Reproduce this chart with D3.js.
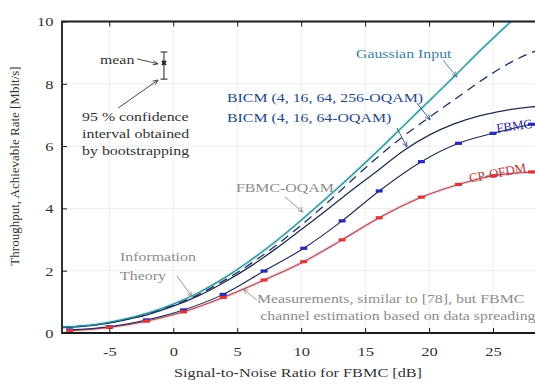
<!DOCTYPE html>
<html>
<head>
<meta charset="utf-8">
<script src="https://cdn.jsdelivr.net/npm/d3@7"></script>
<style>
  html, body { margin: 0; padding: 0; background: #fff; }
  svg { display: block; }
  svg text { font-family: "Liberation Serif", "Tinos", "Times New Roman", "DejaVu Serif", serif; }
</style>
</head>
<body>
<svg id="chart" width="535" height="385"></svg>
<script>

// theory curves, sampled on a common SNR grid [dB]
const snrTheory = [-8.7, -6, -4, -2, 0, 2, 4, 6, 8, 10, 12, 14, 16, 18, 20, 22, 24, 26, 28, 30];
const gaussian  = [0.19, 0.28, 0.43, 0.64, 0.93, 1.30, 1.77, 2.32, 2.94, 3.62, 4.34, 5.08, 5.85, 6.65, 7.45, 8.25, 9.07, 9.85, 10.6, 11.4];
const bicm256   = [0.18, 0.27, 0.41, 0.61, 0.89, 1.24, 1.69, 2.21, 2.80, 3.46, 4.17, 4.92, 5.65, 6.32, 6.92, 7.50, 8.08, 8.60, 9.00, 9.25];
const bicm64    = [0.17, 0.26, 0.40, 0.59, 0.86, 1.20, 1.63, 2.13, 2.70, 3.32, 3.95, 4.60, 5.22, 5.85, 6.35, 6.72, 6.98, 7.15, 7.26, 7.33];

// measurements
const snrMeas = [-8.1, -5.0, -2.1, 0.8, 3.9, 7.1, 10.2, 13.2, 16.1, 19.4, 22.3, 25.0, 28.0, 31.0];
const fbmcMeas = [0.10, 0.20, 0.42, 0.74, 1.24, 1.99, 2.72, 3.60, 4.56, 5.50, 6.09, 6.41, 6.70, 6.95];
const ofdmMeas = [0.07, 0.18, 0.38, 0.68, 1.14, 1.70, 2.29, 2.99, 3.70, 4.36, 4.77, 5.05, 5.17, 5.27];

// example error bar (mean + 95 % interval)
const exampleBar = { snr: -0.73, mean: 8.67, lo: 8.15, hi: 9.02 };

const xTicks = [-5, 0, 5, 10, 15, 20, 25];
const yTicks = [0, 2, 4, 6, 8, 10];

const svg = d3.select("#chart");
const L = 62, T = 21.5, B = 333, R = 557;
const SX = 1.22;   // the source figure is stretched horizontally, text included

const x = d3.scaleLinear().domain([-8.7, 30]).range([L, R]);
const y = d3.scaleLinear().domain([0, 10]).range([B, T]);

const defs = svg.append("defs");
defs.append("clipPath").attr("id", "plotClip")
  .append("rect").attr("x", L).attr("y", T).attr("width", R - L).attr("height", B - T);

function arrowMarker(id, color) {
  defs.append("marker")
    .attr("id", id).attr("viewBox", "0 0 10 10")
    .attr("refX", 9).attr("refY", 5)
    .attr("markerWidth", 7).attr("markerHeight", 7)
    .attr("orient", "auto")
    .append("path").attr("d", "M1,1.5 L9,5 L1,8.5").attr("fill", "none")
    .attr("stroke", color).attr("stroke-width", 1.3);
}
arrowMarker("arDark", "#333");
arrowMarker("arTeal", "#3b7fa6");
arrowMarker("arNavy", "#2a4a85");
arrowMarker("arGray", "#8c8c8c");

// grid
const gGrid = svg.append("g");
gGrid.selectAll("line.v").data(xTicks).join("line")
  .attr("x1", d => x(d)).attr("x2", d => x(d)).attr("y1", T).attr("y2", B)
  .attr("stroke", "#ededed").attr("stroke-width", 1);
gGrid.selectAll("line.h").data(yTicks.slice(1, -1)).join("line")
  .attr("y1", d => y(d)).attr("y2", d => y(d)).attr("x1", L).attr("x2", R)
  .attr("stroke", "#ededed").attr("stroke-width", 1);

// curves
const gPlot = svg.append("g").attr("clip-path", "url(#plotClip)");
const line = d3.line().x(d => x(d[0])).y(d => y(d[1])).curve(d3.curveMonotoneX);
const zip = (xs, ys) => xs.map((v, i) => [v, ys[i]]);

// soft halos seen in the picture
gPlot.append("path").attr("d", line(zip(snrTheory, gaussian)))
  .attr("fill", "none").attr("stroke", "#d3f0f4").attr("stroke-width", 3.5);
gPlot.append("path").attr("d", line(zip(snrMeas, ofdmMeas)))
  .attr("fill", "none").attr("stroke", "#f6dbe6").attr("stroke-width", 3.5);

gPlot.append("path").attr("d", line(zip(snrTheory, bicm64)))
  .attr("fill", "none").attr("stroke", "#1f2f4f").attr("stroke-width", 1.3);
gPlot.append("path").attr("d", line(zip(snrTheory, bicm256)))
  .attr("fill", "none").attr("stroke", "#1f2f5f").attr("stroke-width", 1.3)
  .attr("stroke-dasharray", "9,6");
gPlot.append("path").attr("d", line(zip(snrTheory, gaussian)))
  .attr("fill", "none").attr("stroke", "#2f8f96").attr("stroke-width", 1.3);

gPlot.append("path").attr("d", line(zip(snrMeas, ofdmMeas)))
  .attr("fill", "none").attr("stroke", "#a84a4a").attr("stroke-width", 1.1);
gPlot.append("path").attr("d", line(zip(snrMeas, fbmcMeas)))
  .attr("fill", "none").attr("stroke", "#1c2a55").attr("stroke-width", 1.1);

// measurement markers
function markers(ys, color) {
  gPlot.append("g").selectAll("rect").data(zip(snrMeas, ys)).join("rect")
    .attr("x", d => x(d[0]) - 3.5).attr("y", d => y(d[1]) - 1.6)
    .attr("width", 7).attr("height", 3.2)
    .attr("fill", color);
}
markers(fbmcMeas, "#2a2ab0");
markers(ofdmMeas, "#d83a3a");

// example error bar
const eb = svg.append("g").attr("stroke", "#222").attr("stroke-width", 1);
eb.append("line").attr("x1", x(exampleBar.snr)).attr("x2", x(exampleBar.snr))
  .attr("y1", y(exampleBar.lo)).attr("y2", y(exampleBar.hi));
[exampleBar.lo, exampleBar.hi].forEach(v => {
  eb.append("line").attr("x1", x(exampleBar.snr) - 3.5).attr("x2", x(exampleBar.snr) + 3.5)
    .attr("y1", y(v)).attr("y2", y(v));
});
eb.append("path")
  .attr("d", d3.symbol(d3.symbolCross, 18)())
  .attr("transform", `translate(${x(exampleBar.snr)},${y(exampleBar.mean)}) rotate(45)`)
  .attr("fill", "#222").attr("stroke", "none");

// axes: box + inward ticks
const axisColor = "#1a1a1a";
const gx = svg.append("g").attr("transform", `translate(0,${B})`)
  .call(d3.axisBottom(x).tickValues(xTicks).tickSizeInner(-5).tickSizeOuter(0).tickPadding(13));
const gxTop = svg.append("g").attr("transform", `translate(0,${T})`)
  .call(d3.axisTop(x).tickValues(xTicks).tickSizeInner(-5).tickSizeOuter(0).tickFormat(() => ""));
const gy = svg.append("g").attr("transform", `translate(${L},0)`)
  .call(d3.axisLeft(y).tickValues(yTicks).tickSizeInner(-5).tickSizeOuter(0).tickPadding(7));
[gx, gxTop, gy].forEach(g => {
  g.attr("font-family", null);
  g.select(".domain").remove();
  g.selectAll(".tick line").attr("stroke", axisColor).attr("stroke-width", 1);
  g.selectAll("text").attr("fill", "#333").attr("font-size", 13.5)
    .attr("transform", `scale(${SX},1)`);
});
gx.selectAll("text").text(d => d < 0 ? "-" + Math.abs(d) : d);

svg.append("path")
  .attr("d", `M${R},${T} L${L},${T} L${L},${B} L${R},${B}`)
  .attr("fill", "none").attr("stroke", axisColor).attr("stroke-width", 1.8);

// axis titles
svg.append("text").attr("transform", `translate(298,377) scale(1.25,1)`)
  .attr("text-anchor", "middle").attr("font-size", 13).attr("fill", "#333")
  .text("Signal-to-Noise Ratio for FBMC [dB]");
svg.append("text").attr("transform", "translate(19,166) rotate(-90)")
  .attr("text-anchor", "middle").attr("font-size", 13).attr("fill", "#333")
  .text("Throughput, Achievable Rate [Mbit/s]");

// annotations (positions in data units)
const notes = [
  { t: "mean", s: -5.73, v: 8.64, c: "#333" },
  { t: "95 % confidence", s: -7.13, v: 6.81, c: "#333" },
  { t: "interval obtained", s: -7.13, v: 6.26, c: "#333" },
  { t: "by bootstrapping", s: -7.13, v: 5.71, c: "#333" },
  { t: "Gaussian Input", s: 14.28, v: 8.83, c: "#3b7fa6" },
  { t: "BICM (4, 16, 64, 256-OQAM)", s: 4.2, v: 7.42, c: "#234a85" },
  { t: "BICM (4, 16, 64-OQAM)", s: 4.2, v: 6.77, c: "#234a85" },
  { t: "FBMC-OQAM", s: 4.9, v: 4.53, c: "#8c8c8c" },
  { t: "Information", s: -4.16, v: 2.31, c: "#8c8c8c" },
  { t: "Theory", s: -4.16, v: 1.70, c: "#8c8c8c" },
  { t: "Measurements, similar to [78], but FBMC", s: 6.54, v: 0.96, c: "#8c8c8c" },
  { t: "channel estimation based on data spreading", s: 6.8, v: 0.42, c: "#8c8c8c" }
];
svg.append("g").selectAll("text").data(notes).join("text")
  .attr("transform", d => `translate(${x(d.s)},${y(d.v)}) scale(${SX},1)`)
  .attr("font-size", 13).attr("fill", d => d.c).text(d => d.t);

// curve labels, tilted along the lines
svg.append("text").attr("transform", `translate(${x(25.3)},${y(6.43)}) rotate(-8)`)
  .attr("font-size", 13).attr("fill", "#2a2a9a").text("FBMC");
svg.append("text").attr("transform", `translate(${x(23.2)},${y(4.83)}) rotate(-11)`)
  .attr("font-size", 13).attr("fill", "#b03a3a").text("CP-OFDM");

const arrows = [
  { s0: -2.84, v0: 8.80, s1: -1.19, v1: 8.64, c: "#333", m: "arDark" },
  { s0: -4.32, v0: 7.22, s1: -1.19, v1: 8.12, c: "#333", m: "arDark" },
  { s0: 21.09, v0: 8.76, s1: 22.18, v1: 8.22, c: "#3b7fa6", m: "arTeal" },
  { s0: 19.05, v0: 7.38, s1: 20.07, v1: 6.84, c: "#2a4a85", m: "arNavy" },
  { s0: 17.49, v0: 6.58, s1: 18.27, v1: 5.97, c: "#2a4a85", m: "arNavy" },
  { s0: 8.73, v0: 4.37, s1: 10.14, v1: 3.88, c: "#8c8c8c", m: "arGray" },
  { s0: 0.29, v0: 1.83, s1: 1.46, v1: 1.16, c: "#8c8c8c", m: "arGray" },
  { s0: 6.54, v0: 1.06, s1: 5.45, v1: 1.41, c: "#8c8c8c", m: "arGray" }
];
svg.append("g").selectAll("line").data(arrows).join("line")
  .attr("x1", d => x(d.s0)).attr("y1", d => y(d.v0))
  .attr("x2", d => x(d.s1)).attr("y2", d => y(d.v1))
  .attr("stroke", d => d.c).attr("stroke-width", 0.9)
  .attr("marker-end", d => `url(#${d.m})`);
</script>
</body>
</html>
